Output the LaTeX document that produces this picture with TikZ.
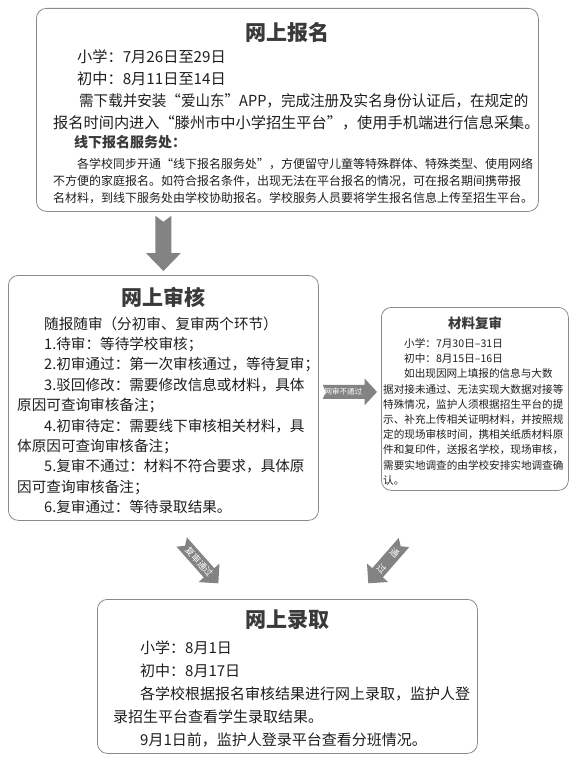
\documentclass[tikz,border=0pt]{standalone}
\usepackage{fontspec}
\usepackage{graphicx}
\setmainfont{Noto Sans CJK SC}
\usetikzlibrary{calc}
\definecolor{boxgray}{HTML}{8A8A8A}
\definecolor{arrgray}{HTML}{838383}
\definecolor{txtgray}{HTML}{1E1E1E}
\definecolor{ttlgray}{HTML}{3A3A3A}
% block arrow: tail, tip, shaft half width, head length, head half width, notch
\newcommand{\blkarrow}[6]{%
	\coordinate (#1-h) at ($(#2)!#4!(#1)$);
	\coordinate (#1-n) at ($(#1)!#6!(#2)$);
	\fill[arrgray] ($(#1)!#3!90:(#2)$) -- ($(#1-h)!#3!90:(#2)$) -- ($(#1-h)!#5!90:(#2)$) -- (#2)
		-- ($(#1-h)!#5!-90:(#2)$) -- ($(#1-h)!#3!-90:(#2)$) -- ($(#1)!#3!-90:(#2)$) -- (#1-n) -- cycle;
}
\begin{document}
\begin{tikzpicture}[x=1pt, y=-1pt,
		box/.style={draw=boxgray, line width=0.8pt, rounded corners=10pt, anchor=north west, inner sep=0pt},
		ttl/.style={font=\bfseries\fontsize{21}{21}\selectfont, text=ttlgray, inner sep=0pt},
		body/.style={align=left, anchor=north west, inner sep=0pt, text=txtgray},
		arrtxt/.style={text=white, font=\fontsize{7.5}{8}\selectfont, inner sep=0pt}]
	\useasboundingbox (0,0) rectangle (576,760);
	% boxes
	\node[box, minimum width=502pt, minimum height=203pt] (reg) at (36,8) {};
	\node[box, minimum width=310pt, minimum height=245pt] (rev) at (8,275) {};
	\node[box, minimum width=187pt, minimum height=183pt] (mat) at (381,307) {};
	\node[box, minimum width=380pt, minimum height=154pt] (adm) at (97,599) {};
	% titles
	\node[ttl] (regt) at (287,32) {网上报名};
	\node[ttl] (revt) at (163,297) {网上审核};
	\node[ttl, font=\bfseries\fontsize{13.5}{14}\selectfont] (matt) at (475,323) {材料复审};
	\node[ttl] (admt) at (287,620) {网上录取};
	% texts
	\node[body, font=\fontsize{15.2}{22}\selectfont] (regb) at (53,49) {\hspace*{24pt}小学：7月26日至29日\\
		\hspace*{24pt}初中：8月11日至14日\\
		\hspace*{26pt}\scalebox{0.957}[1]{需下载并安装“爱山东”APP，完成注册及实名身份认证后，在规定的}\\
		报名时间内进入“滕州市中小学招生平台”，使用手机端进行信息采集。};
	\node[body, anchor=west, font=\bfseries\fontsize{14}{14}\selectfont, text=ttlgray] (regs) at (74,142) {线下报名服务处：};
	\node[body, font=\fontsize{12}{17}\selectfont] (regn) at (53,157.6) {\hspace*{24pt}各学校同步开通“线下报名服务处”，方便留守儿童等特殊群体、特殊类型、使用网络\\
		不方便的家庭报名。如符合报名条件，出现无法在平台报名的情况，可在报名期间携带报\\
		名材料，到线下服务处由学校协助报名。学校服务人员要将学生报名信息上传至招生平台。};
	\node[body, font=\fontsize{14.6}{20.4}\selectfont] (revb) at (17,316.4) {\hspace*{27pt}随报随审（分初审、复审两个环节）\\
		\hspace*{27pt}1.待审：等待学校审核；\\
		\hspace*{27pt}2.初审通过：第一次审核通过，等待复审；\\
		\hspace*{27pt}3.驳回修改：需要修改信息或材料，具体\\
		原因可查询审核备注；\\
		\hspace*{27pt}4.初审待定：需要线下审核相关材料，具\\
		体原因可查询审核备注；\\
		\hspace*{27pt}5.复审不通过：材料不符合要求，具体原\\
		因可查询审核备注；\\
		\hspace*{27pt}6.复审通过：等待录取结果。};
	\node[body, font=\fontsize{10.6}{15.2}\selectfont] (matb) at (383,338.2) {\hspace*{21pt}小学：7月30日–31日\\
		\hspace*{21pt}初中：8月15日–16日\\
		\hspace*{21pt}如出现因网上填报的信息与大数\\
		据对接未通过、无法实现大数据对接等\\
		特殊情况，监护人须根据招生平台的提\\
		示、补充上传相关证明材料，并按照规\\
		定的现场审核时间，携相关纸质材料原\\
		件和复印件，送报名学校，现场审核，\\
		需要实地调查的由学校安排实地调查确\\
		认。};
	\node[body, font=\fontsize{15}{23}\selectfont] (admb) at (113,640.3) {\hspace*{27pt}小学：8月1日\\
		\hspace*{27pt}初中：8月17日\\
		\hspace*{27pt}各学校根据报名审核结果进行网上录取，监护人登\\
		录招生平台查看学生录取结果。\\
		\hspace*{27pt}9月1日前，监护人登录平台查看分班情况。};
	% arrows
	\coordinate (d1) at ([yshift=-4pt]reg.south -| rev.north);
	\coordinate (d2) at ([yshift=4pt]rev.north);
	\coordinate (r1) at ([xshift=4pt,yshift=6pt]rev.east);
	\coordinate (r2) at ([xshift=-4pt]r1 -| mat.west);
	\coordinate (l1) at (181.7,542);
	\coordinate (l2) at (218.3,583.3);
	\coordinate (k1) at (404,542.5);
	\coordinate (k2) at (368.3,583.3);
	\blkarrow{d1}{d2}{8pt}{18pt}{17.5pt}{6pt}
	\blkarrow{r1}{r2}{7pt}{12.5pt}{13.5pt}{3pt}
	\blkarrow{l1}{l2}{7pt}{14pt}{14pt}{5pt}
	\blkarrow{k1}{k2}{7pt}{14pt}{14pt}{5pt}
	\node[arrtxt] (rlab) at ($(r1)!0.38!(r2)$) {网审不通过};
	\node[arrtxt, font=\fontsize{9}{9}\selectfont, rotate=-48.4] (llab) at ($(l1)!0.48!(l2)$) {复审通过};
	\node[arrtxt, font=\fontsize{9}{20}\selectfont, rotate=-41, align=center] (klab) at ($(k1)!0.45!(k2)$) {通\\过};
\end{tikzpicture}
\end{document}
